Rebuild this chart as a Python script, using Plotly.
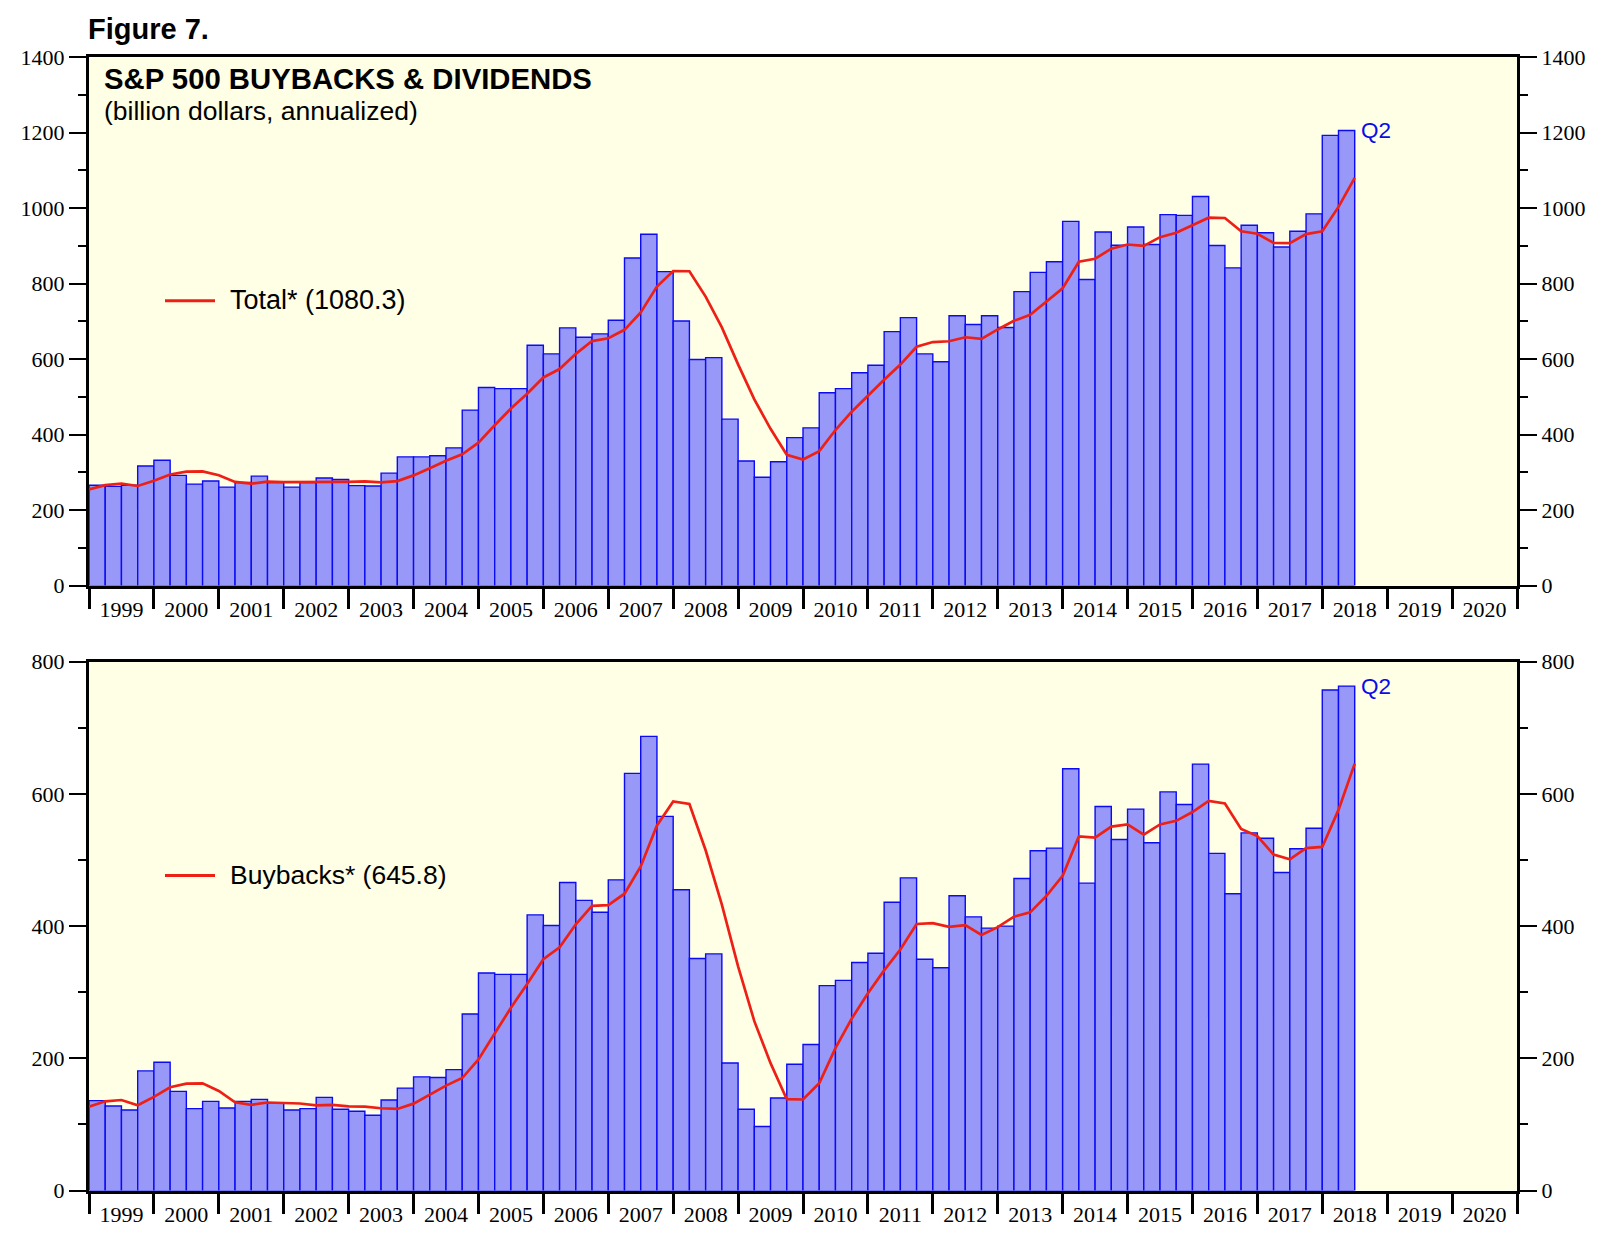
import plotly.graph_objects as go

# ---------------- data (billion dollars, annualized) ----------------
first_year, last_year = 1999, 2018
quarters = [f"{y}Q{q}" for y in range(first_year, last_year + 1) for q in range(1, 5)][:78]

total = [266, 263, 266, 317,
         332, 292, 269, 277,
         261, 273, 290, 273,
         261, 273, 285, 281,
         265, 264, 298, 341,
         341, 344, 365, 465,
         525, 522, 522, 637,
         614, 683, 658, 667,
         703, 868, 931, 832,
         701, 599, 604, 441,
         330, 287, 328, 392,
         418, 511, 522, 564,
         584, 673, 710, 614,
         593, 715, 692, 715,
         684, 779, 830, 858,
         965, 811, 937, 902,
         950, 904, 983, 981,
         1031, 901, 842, 955,
         935, 897, 939, 985,
         1193, 1206]

buybacks = [136, 128, 122, 181,
            194, 150, 124, 135,
            125, 135, 138, 132,
            122, 124, 141, 123,
            120, 114, 137, 155,
            172, 171, 183, 267,
            329, 327, 327, 417,
            401, 466, 439, 421,
            470, 631, 687, 566,
            455, 351, 358, 193,
            123, 97, 140, 191,
            221, 310, 318, 345,
            359, 436, 473, 350,
            337, 446, 414, 397,
            400, 472, 514, 518,
            638, 465, 581, 531,
            577, 526, 603, 584,
            645, 510, 449, 541,
            533, 481, 517, 548,
            757, 763]

# 4-quarter average lines, plotted at quarter end (1998Q4 .. 2018Q2)
avg_quarters = ["1998Q4"] + quarters

total_avg = [255, 266, 270, 264, 278,
             294.5, 301.75, 302.5, 292.5,
             274.75, 270, 275.25, 274.25,
             274.25, 274.25, 273, 275,
             276, 273.75, 277, 292,
             311, 331, 347.75, 378.75,
             424.75, 469.25, 508.5, 551.5,
             573.75, 614, 648, 655.5,
             677.75, 724, 792.25, 833.5,
             833, 765.75, 684, 586.25,
             493.5, 415.5, 346.5, 334.25,
             356.25, 412.25, 460.75, 503.75,
             545.25, 585.75, 632.75, 645.25,
             647.5, 658, 653.5, 678.75,
             701.5, 717.5, 752, 787.75,
             858, 866, 892.75, 903.75,
             900, 923.25, 934.75, 954.5,
             974.75, 974, 938.75, 932.25,
             908.25, 907.25, 931.5, 939,
             1003.5, 1080.3]

buyback_avg = [127, 135, 137, 129, 141.75,
               156.25, 161.75, 162.25, 150.75,
               133.5, 129.75, 133.25, 132.5,
               131.75, 129, 129.75, 127.5,
               127, 124.5, 123.5, 131.5,
               144.5, 158.75, 170.25, 198.25,
               237.5, 276.5, 312.5, 350,
               368, 402.75, 430.75, 431.75,
               449, 490.25, 552.25, 588.5,
               584.75, 514.75, 432.5, 339.25,
               256.25, 192.75, 138.25, 137.75,
               162.25, 215.5, 260, 298.5,
               333, 364.5, 403.25, 404.5,
               399, 401.5, 386.75, 398.5,
               414.25, 420.75, 445.75, 476,
               535.5, 533.75, 550.5, 553.75,
               538.5, 553.75, 559.25, 572.5,
               589.5, 585.5, 547, 536.25,
               508.25, 501, 518, 519.75,
               575.75, 645.8]

label_years = list(range(1999, 2021))
year_labels = [str(y) for y in label_years]

title_main = "S&P 500 BUYBACKS & DIVIDENDS"
title_sub = "(billion dollars, annualized)"
legend_top = f"Total* ({total_avg[-1]})"
legend_bottom = f"Buybacks* ({buyback_avg[-1]})"
last_label = "Q2"

# ---------------- helpers ----------------
def q_mid(label):
    y, q = label.split("Q")
    return int(y) + (int(q) - 0.5) / 4.0

def q_end(label):
    y, q = label.split("Q")
    return int(y) + int(q) / 4.0

bar_x = [q_mid(q) for q in quarters]
avg_x = [q_end(q) for q in avg_quarters]
label_x = [y + 0.5 for y in label_years]

W, H = 1600, 1244
def px(x):
    return x / W
def py(y):
    return 1 - y / H

BAR_FILL = "rgb(152,152,248)"
BAR_EDGE = "rgb(10,10,245)"
RED = "rgb(238,32,22)"
BG = "#FFFFE6"
SERIF = "Liberation Serif, Times New Roman, serif"
SANS = "Liberation Sans, Arial, Helvetica, sans-serif"

x_dom = [px(81), px(1509)]
top_dom = [py(577.2), py(38)]
bot_dom = [py(1194.6), py(654.8)]

fig = go.Figure()

# top panel
fig.add_trace(go.Bar(x=bar_x, y=total, width=0.25,
                     marker=dict(color=BAR_FILL, line=dict(color=BAR_EDGE, width=1.4)),
                     xaxis="x", yaxis="y", showlegend=False, hoverinfo="x+y"))
fig.add_trace(go.Scatter(x=avg_x, y=total_avg, mode="lines",
                         line=dict(color=RED, width=2.7),
                         xaxis="x", yaxis="y", showlegend=False))
fig.add_trace(go.Scatter(x=[None], y=[None], mode="lines", xaxis="x", yaxis="y2",
                         showlegend=False, hoverinfo="skip"))

# bottom panel
fig.add_trace(go.Bar(x=bar_x, y=buybacks, width=0.25,
                     marker=dict(color=BAR_FILL, line=dict(color=BAR_EDGE, width=1.4)),
                     xaxis="x2", yaxis="y3", showlegend=False, hoverinfo="x+y"))
fig.add_trace(go.Scatter(x=avg_x, y=buyback_avg, mode="lines",
                         line=dict(color=RED, width=2.7),
                         xaxis="x2", yaxis="y3", showlegend=False))
fig.add_trace(go.Scatter(x=[None], y=[None], mode="lines", xaxis="x2", yaxis="y4",
                         showlegend=False, hoverinfo="skip"))

def xaxis_cfg(anchor):
    return dict(domain=x_dom, range=[1999, 2021], anchor=anchor,
                tickmode="array", tickvals=label_x, ticktext=year_labels,
                ticks="outside", ticklen=2, tickwidth=1, tickcolor="rgba(0,0,0,0)",
                minor=dict(tickmode="linear", tick0=1999, dtick=1, ticks="outside",
                           ticklen=20, tickwidth=3, tickcolor="black"),
                showline=True, linecolor="black", linewidth=3, mirror=True,
                showgrid=False, zeroline=False, layer="below traces",
                tickfont=dict(family=SERIF, size=22, color="black"))

def yaxis_cfg(dom, rng, anchor, side="left", overlaying=None):
    d = dict(domain=dom, range=rng, anchor=anchor, side=side,
             tickmode="linear", tick0=0, dtick=200,
             ticks="outside", ticklen=17, tickwidth=2, tickcolor="black",
             minor=dict(dtick=100, tick0=0, ticks="outside", ticklen=8,
                        tickwidth=2, tickcolor="black"),
             showline=True, linecolor="black", linewidth=3, mirror=True,
             showgrid=False, zeroline=False,
             tickfont=dict(family=SERIF, size=22, color="black"))
    if overlaying:
        d["overlaying"] = overlaying
    return d

fig.update_layout(
    width=W, height=H,
    margin=dict(l=0, r=0, t=0, b=0),
    paper_bgcolor="white", plot_bgcolor=BG,
    showlegend=False,
    xaxis=xaxis_cfg("y"),
    xaxis2=xaxis_cfg("y3"),
    yaxis=yaxis_cfg(top_dom, [0, 1400], "x"),
    yaxis2=yaxis_cfg(top_dom, [0, 1400], "x", side="right", overlaying="y"),
    yaxis3=yaxis_cfg(bot_dom, [0, 800], "x2"),
    yaxis4=yaxis_cfg(bot_dom, [0, 800], "x2", side="right", overlaying="y3"),
)

annotations = [
    dict(text="<b>Figure 7.</b>", x=px(78), y=py(9.5), xref="paper", yref="paper",
         xanchor="left", yanchor="middle", showarrow=False,
         font=dict(family=SANS, size=29, color="black")),
    dict(text=f"<b>{title_main}</b>", x=px(94), y=py(59.5), xref="paper", yref="paper",
         xanchor="left", yanchor="middle", showarrow=False,
         font=dict(family=SANS, size=29.3, color="black")),
    dict(text=title_sub, x=px(94), y=py(92.5), xref="paper", yref="paper",
         xanchor="left", yanchor="middle", showarrow=False,
         font=dict(family=SANS, size=26.5, color="black")),
    dict(text=legend_top, x=px(220), y=py(286), xref="paper", yref="paper",
         xanchor="left", yanchor="middle", showarrow=False,
         font=dict(family=SANS, size=27, color="black")),
    dict(text=legend_bottom, x=px(220), y=py(872.5), xref="paper", yref="paper",
         xanchor="left", yanchor="middle", showarrow=False,
         font=dict(family=SANS, size=26.5, color="black")),
    dict(text=last_label, x=bar_x[-1] + 0.125, y=total[-1], xref="x", yref="y",
         xanchor="left", yanchor="middle", xshift=4, showarrow=False,
         font=dict(family=SANS, size=22.5, color="rgb(10,10,235)")),
    dict(text=last_label, x=bar_x[-1] + 0.125, y=buybacks[-1], xref="x2", yref="y3",
         xanchor="left", yanchor="middle", xshift=4, showarrow=False,
         font=dict(family=SANS, size=22.5, color="rgb(10,10,235)")),
]
fig.update_layout(annotations=annotations)

shapes = [
    dict(type="line", xref="paper", yref="paper", x0=px(157), x1=px(207),
         y0=py(286.5), y1=py(286.5), line=dict(color=RED, width=3)),
    dict(type="line", xref="paper", yref="paper", x0=px(157), x1=px(207),
         y0=py(873), y1=py(873), line=dict(color=RED, width=3)),
]
fig.update_layout(shapes=shapes)

fig.write_html("out.html")
